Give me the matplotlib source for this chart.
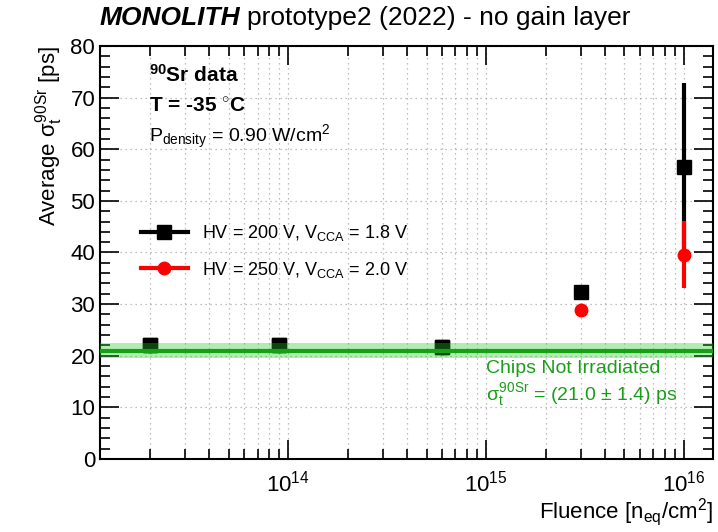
import numpy as np
import matplotlib.pyplot as plt
from matplotlib.ticker import LogLocator, MultipleLocator, NullFormatter

plt.rcParams['font.family'] = ['Liberation Sans', 'DejaVu Sans']
plt.rcParams['mathtext.fontset'] = 'custom'
plt.rcParams['mathtext.rm'] = 'Liberation Sans'
plt.rcParams['mathtext.it'] = 'Liberation Sans'
plt.rcParams['mathtext.bf'] = 'Liberation Sans:bold'

# data
fluence = [2e13, 9e13, 6e14, 3e15, 1e16]
sigma_200 = [22.0, 22.0, 21.6, 32.4, 56.6]
err_200 = [0.6, 0.6, 0.6, 0.8, 16.3]
sigma_250 = [21.8, 21.8, 21.5, 28.9, 39.6]
err_250 = [0.6, 0.6, 0.6, 0.8, 6.5]
ref_sigma = 21.0
ref_err = 1.4

green = '#1a9e1a'

fig = plt.figure(figsize=(7.18, 5.32), dpi=100)
ax = fig.add_axes([100 / 718, 1 - 459 / 532, 613 / 718, 413 / 532])

ax.errorbar(fluence, sigma_200, yerr=err_200, fmt='s', color='black', ms=10,
            elinewidth=3, capsize=0, zorder=3)
ax.errorbar(fluence, sigma_250, yerr=err_250, fmt='o', color='red', ms=9,
            elinewidth=3, capsize=0, zorder=4)
# black points drawn on top at low fluence (red hidden behind)
ax.plot(fluence[:3], sigma_200[:3], 's', color='black', ms=10, zorder=5)

ax.axhspan(ref_sigma - ref_err, ref_sigma + ref_err, color='#22cc22', alpha=0.35,
           lw=0, zorder=6)
ax.axhline(ref_sigma, color=green, lw=3, zorder=7)

ax.set_xscale('log')
ax.set_xlim(1.12e13, 1.4e16)
ax.set_ylim(0, 80)
ax.yaxis.set_major_locator(MultipleLocator(10))
ax.yaxis.set_minor_locator(MultipleLocator(2))
ax.xaxis.set_major_locator(LogLocator(base=10, numticks=10))
ax.xaxis.set_minor_locator(LogLocator(base=10, subs=np.arange(2, 10), numticks=20))
ax.xaxis.set_minor_formatter(NullFormatter())

ax.grid(True, which='major', axis='both', ls=(0, (1, 3)), color='#aaaaaa', lw=0.9)
ax.grid(True, which='minor', axis='x', ls=(0, (1, 3)), color='#aaaaaa', lw=0.9)

ax.tick_params(which='both', direction='in', top=True, right=True, labelsize=16,
               width=1.2)
ax.tick_params(which='major', length=14)
ax.tick_params(which='minor', length=7)
ax.tick_params(axis='x', which='major', pad=8)
for s in ax.spines.values():
    s.set_linewidth(1.5)

ax.set_ylabel(r'Average $\sigma_{t}^{90Sr}$ [ps]', fontsize=16, loc='top')
ax.set_xlabel(r'Fluence [n$_{eq}$/cm$^{2}$]', fontsize=16, loc='right', labelpad=0)

t1 = fig.text(100 / 718, 1 - 18 / 532, 'MONOLITH', fontsize=19,
              va='center', ha='left', fontweight='bold', fontstyle='italic')
fig.canvas.draw()
bb = t1.get_window_extent()
fig.text((bb.x1 + 6) / 718, 1 - 18 / 532, 'prototype2 (2022) - no gain layer',
         fontsize=19, va='center', ha='left')

ax.text(0.08, 0.93, r'$^{\mathbf{90}}$Sr data', transform=ax.transAxes,
        fontsize=15, fontweight='bold', va='center')
ax.text(0.08, 0.855, r'T = -35 $^{\circ}$C', transform=ax.transAxes,
        fontsize=15, fontweight='bold', va='center')
ax.text(0.08, 0.78, r'P$_{density}$ = 0.90 W/cm$^{2}$', transform=ax.transAxes,
        fontsize=14, va='center')

ax.text(0.63, 0.22, 'Chips Not Irradiated', transform=ax.transAxes,
        fontsize=14, color=green, va='center')
ax.text(0.63, 0.155, r'$\sigma_{t}^{90Sr}$ = (21.0 $\pm$ 1.4) ps', transform=ax.transAxes,
        fontsize=14, color=green, va='center')

h1, = ax.plot([], [], 's-', color='black', ms=10, lw=3)
h2, = ax.plot([], [], 'o-', color='red', ms=9, lw=3)
ax.legend([h1, h2], [r'HV = 200 V, V$_{CCA}$ = 1.8 V', r'HV = 250 V, V$_{CCA}$ = 2.0 V'],
          loc='upper left', bbox_to_anchor=(0.04, 0.61), frameon=False, fontsize=13,
          handlelength=2.6, labelspacing=0.9)

fig.savefig('out.png', dpi=100)
